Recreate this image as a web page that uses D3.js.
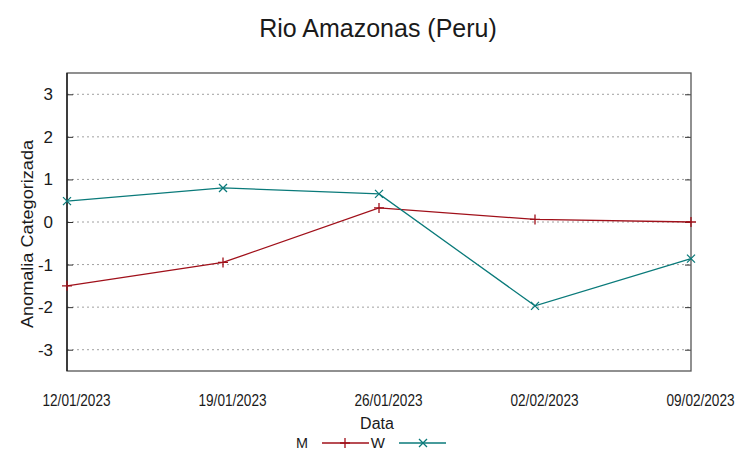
<!DOCTYPE html>
<html><head><meta charset="utf-8">
<script src="https://cdn.jsdelivr.net/npm/d3@7"></script>
<style>body{margin:0;background:#fff}svg{display:block}text{font-family:"Liberation Sans",Arial,sans-serif;fill:#1a1a1a}</style>
</head><body>
<script>
const dates = ["12/01/2023","19/01/2023","26/01/2023","02/02/2023","09/02/2023"];
const seriesM = [-1.50, -0.95, 0.33, 0.06, 0.00];
const seriesW = [0.49, 0.80, 0.66, -1.97, -0.86];
const yTicks = [-3,-2,-1,0,1,2,3];
const title = "Rio Amazonas (Peru)";
const xTitle = "Data";
const yTitle = "Anomalia Categorizada";

const W = 753, H = 459;
const m = {l:67, r:62, t:73, b:88};
const svg = d3.select("body").append("svg").attr("width",W).attr("height",H);
const x = d3.scalePoint().domain(dates).range([m.l, W-m.r]);
const y = d3.scaleLinear().domain([-3.5,3.5]).range([H-m.b, m.t]);

// grid
svg.append("g").selectAll("line").data(yTicks).join("line")
  .attr("x1",m.l).attr("x2",W-m.r).attr("y1",d=>y(d)).attr("y2",d=>y(d))
  .attr("stroke","#a0a0a0").attr("stroke-width",1).attr("stroke-dasharray","2,3");

// left axis
const ya = svg.append("g").attr("transform",`translate(${m.l},0)`)
  .call(d3.axisLeft(y).tickValues(yTicks).tickSize(-6).tickPadding(14).tickFormat(d=>String(d)));
ya.select(".domain").remove();
ya.selectAll("line").attr("stroke","#333");
ya.selectAll("text").attr("font-size",17).style("font-family","Liberation Sans, Arial, sans-serif").attr("fill","#1a1a1a");
// right ticks
const yr = svg.append("g").attr("transform",`translate(${W-m.r},0)`)
  .call(d3.axisRight(y).tickValues(yTicks).tickSize(-6).tickFormat(""));
yr.select(".domain").remove();
yr.selectAll("line").attr("stroke","#333");

// x labels
const xa = svg.append("g").attr("transform",`translate(0,${H-m.b})`)
  .call(d3.axisBottom(x).tickSize(0).tickPadding(0));
xa.select(".domain").remove();
xa.selectAll("text").attr("dy",null).attr("y",35).attr("dx",9)
  .attr("font-size",16).attr("textLength",68).attr("lengthAdjust","spacingAndGlyphs")
  .style("font-family","Liberation Sans, Arial, sans-serif").attr("fill","#1a1a1a");

// border
svg.append("rect").attr("x",m.l).attr("y",m.t).attr("width",W-m.r-m.l).attr("height",H-m.b-m.t)
  .attr("fill","none").attr("stroke","#555").attr("stroke-width",1.3);
svg.append("line").attr("x1",m.l).attr("x2",m.l).attr("y1",m.t).attr("y2",H-m.b).attr("stroke","#111").attr("stroke-width",1.3);

const colM = "#a0101a", colW = "#0a7a7a";
const line = d3.line().x((d,i)=>x(dates[i])).y(d=>y(d));
svg.append("path").datum(seriesM).attr("d",line).attr("fill","none").attr("stroke",colM).attr("stroke-width",1.3);
svg.append("path").datum(seriesW).attr("d",line).attr("fill","none").attr("stroke",colW).attr("stroke-width",1.3);

function plus(g,cx,cy,c){g.append("path").attr("d",`M${cx-5},${cy}h10M${cx},${cy-5}v10`).attr("stroke",c).attr("stroke-width",1.3).attr("fill","none");}
function cross(g,cx,cy,c){g.append("path").attr("d",`M${cx-4},${cy-4}l8,8M${cx-4},${cy+4}l8,-8`).attr("stroke",c).attr("stroke-width",1.3).attr("fill","none");}
const mk = svg.append("g");
seriesM.forEach((v,i)=>plus(mk,x(dates[i]),y(v),colM));
seriesW.forEach((v,i)=>cross(mk,x(dates[i]),y(v),colW));

// titles
svg.append("text").attr("x",378).attr("y",37).attr("text-anchor","middle").attr("font-size",25).text(title);
svg.append("text").attr("x",377).attr("y",429).attr("text-anchor","middle").attr("font-size",16).text(xTitle);
svg.append("text").attr("transform","translate(33,234) rotate(-90)").attr("text-anchor","middle")
  .attr("font-size",17).attr("textLength",188).attr("lengthAdjust","spacingAndGlyphs").text(yTitle);

// legend
const lg = svg.append("g");
lg.append("text").attr("x",308).attr("y",448).attr("text-anchor","end").attr("font-size",15).attr("textLength",12).attr("lengthAdjust","spacingAndGlyphs").text("M");
lg.append("line").attr("x1",322).attr("x2",369).attr("y1",443).attr("y2",443).attr("stroke",colM).attr("stroke-width",1.3);
plus(lg,345,443,colM);
lg.append("text").attr("x",385).attr("y",448).attr("text-anchor","end").attr("font-size",15).text("W");
lg.append("line").attr("x1",399).attr("x2",446).attr("y1",443).attr("y2",443).attr("stroke",colW).attr("stroke-width",1.3);
cross(lg,423,443,colW);
</script>
</body></html>
